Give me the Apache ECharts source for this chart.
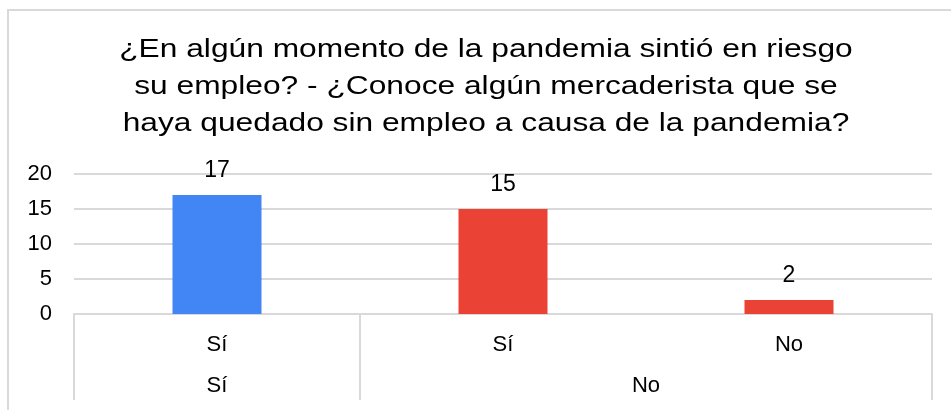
<!DOCTYPE html>
<html>
<head>
<meta charset="utf-8">
<script src="https://cdn.jsdelivr.net/npm/echarts@6/dist/echarts.min.js"></script>
<style>
  html, body { margin: 0; padding: 0; background: #fff; }
  #main { width: 951px; height: 410px; }
</style>
</head>
<body>
<div id="main"></div>
<script>
var chart = echarts.init(document.getElementById('main'));

// inner row: answer to the second question
var categories = ['Sí', 'Sí', 'No'];
var values = [17, 15, 2];
var barColors = ['#4285f4', '#ea4335', '#ea4335'];
// outer row: answer to the first question, with how many inner categories it spans
var groupLabels = ['Sí', 'No'];
var groupSpans = [1, 2];
var yTicks = [0, 5, 10, 15, 20];

var titleText = '¿En algún momento de la pandemia sintió en riesgo\n' +
    'su empleo? - ¿Conoce algún mercaderista que se\n' +
    'haya quedado sin empleo a causa de la pandemia?';

// positions of group boundaries and group centres on a 0..n scale
var groupEdges = [0];
var groupCenters = [];
groupSpans.forEach(function (s) {
    var start = groupEdges[groupEdges.length - 1];
    groupCenters.push(start + s / 2);
    groupEdges.push(start + s);
});

var font = 'Liberation Sans, Arial, sans-serif';

option = {
    backgroundColor: '#fff',
    animation: false,
    graphic: [
        {
            type: 'polyline',
            shape: { points: [[8, 420], [8, 10], [960, 10]] },
            style: { stroke: '#d9d9d9', lineWidth: 2, fill: null }
        },
        {
            // the source picture is stretched sideways, so is the title
            type: 'text',
            x: 486,
            y: 31,
            scaleX: 1.22,
            style: {
                text: titleText,
                font: '26px ' + font,
                fontSize: 26,
                fontFamily: font,
                lineHeight: 37,
                fill: '#000',
                align: 'center',
                textAlign: 'center',
                verticalAlign: 'top',
                textVerticalAlign: 'top'
            }
        }
    ],
    grid: {
        left: 74,
        right: 19,
        top: 174,
        bottom: 96
    },
    xAxis: [
        {
            type: 'category',
            data: categories,
            axisLine: { lineStyle: { color: '#d9d9d9', width: 2 } },
            axisTick: { show: false },
            axisLabel: {
                margin: 20,
                fontFamily: font,
                fontSize: 22,
                color: '#000'
            }
        },
        {
            type: 'value',
            position: 'bottom',
            min: 0,
            max: categories.length,
            splitLine: { show: false },
            axisLine: { show: false },
            axisTick: {
                show: true,
                customValues: groupEdges,
                length: 86,
                lineStyle: { color: '#d9d9d9', width: 2 }
            },
            axisLabel: {
                customValues: groupCenters,
                margin: 61,
                fontFamily: font,
                fontSize: 22,
                color: '#000',
                formatter: function (v) {
                    var i = groupCenters.indexOf(v);
                    return i >= 0 ? groupLabels[i] : '';
                }
            }
        }
    ],
    yAxis: {
        type: 'value',
        min: yTicks[0],
        max: yTicks[yTicks.length - 1],
        interval: 5,
        axisLine: { show: false },
        axisTick: { show: false },
        axisLabel: {
            margin: 22,
            fontFamily: font,
            fontSize: 22,
            color: '#000'
        },
        splitLine: { lineStyle: { color: '#d9d9d9', width: 2 } }
    },
    series: [{
        type: 'bar',
        xAxisIndex: 0,
        barWidth: 89,
        data: values.map(function (v, i) {
            return { value: v, itemStyle: { color: barColors[i] } };
        }),
        label: {
            show: true,
            position: 'top',
            distance: 13,
            fontFamily: font,
            fontSize: 23,
            color: '#000'
        }
    }]
};

chart.setOption(option);
</script>
</body>
</html>
